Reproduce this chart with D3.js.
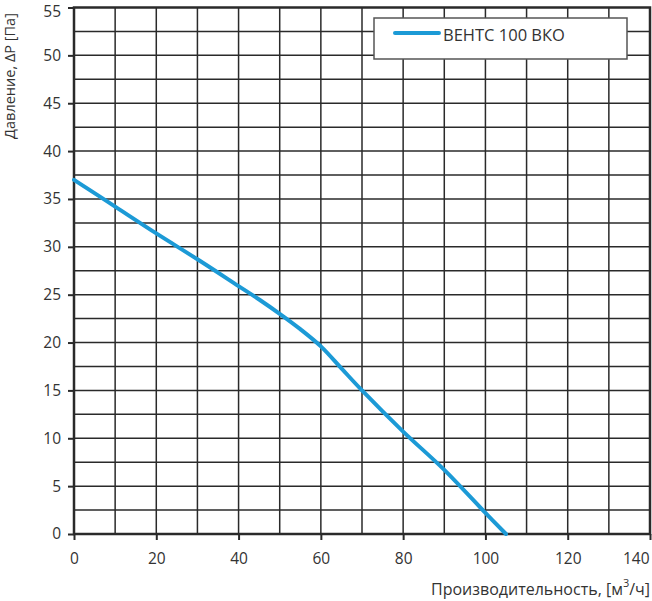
<!DOCTYPE html>
<html><head><meta charset="utf-8">
<script src="https://cdn.jsdelivr.net/npm/d3@7"></script>
<style>body{margin:0;background:#fff}svg text{font-family:"Open Sans",sans-serif;fill:#333}</style>
</head><body><svg id="c" width="652" height="601"></svg>
<script>
const flowX = [0, 10, 20, 30, 40, 45, 50, 55, 60, 65, 70, 80, 90, 100, 105];
const pressureY = [37, 34.2, 31.4, 28.7, 25.9, 24.5, 23.0, 21.4, 19.6, 17.3, 15.0, 10.7, 6.7, 2.2, 0];
const xTicks = [0, 20, 40, 60, 80, 100, 120, 140];
const yTicks = [0, 5, 10, 15, 20, 25, 30, 35, 40, 45, 50, 55];
const seriesName = "ВЕНТС 100 ВКО";

const svg = d3.select("#c");
const m = {l:74, r:2, t:7.5, b:67};
const W = 652, H = 601;
const x = d3.scaleLinear().domain([0,140]).range([m.l, W-m.r]);
const y = d3.scaleLinear().domain([0,55]).range([H-m.b, m.t]);

const grid = svg.append("g").attr("stroke","#2a2a2a").attr("stroke-width",1.5);
grid.selectAll("line.v").data(d3.range(10,140,10)).join("line")
  .attr("x1",d=>x(d)).attr("x2",d=>x(d)).attr("y1",y(0)).attr("y2",y(55));
grid.selectAll("line.h").data(d3.range(2.5,55,2.5)).join("line")
  .attr("y1",d=>y(d)).attr("y2",d=>y(d)).attr("x1",x(0)).attr("x2",x(140));
svg.append("rect").attr("x",x(0)).attr("y",y(55)).attr("width",x(140)-x(0)).attr("height",y(0)-y(55))
  .attr("fill","none").attr("stroke","#2a2a2a").attr("stroke-width",2.5);

const xa = svg.append("g").attr("transform",`translate(0,${y(0)})`)
  .call(d3.axisBottom(x).tickValues(xTicks).tickSize(6).tickPadding(13).tickFormat(d3.format("d")));
const ya = svg.append("g").attr("transform",`translate(${x(0)},0)`)
  .call(d3.axisLeft(y).tickValues(yTicks).tickSize(6).tickPadding(7).tickFormat(d3.format("d")));
[xa,ya].forEach(a=>{a.select(".domain").remove();
  a.selectAll(".tick line").attr("stroke","#2a2a2a").attr("stroke-width",2);
  a.selectAll(".tick text").attr("font-size",15.5).attr("fill","#333").style("font-family","'Open Sans',sans-serif");});
xa.selectAll(".tick text").filter(d=>d===140).attr("text-anchor","end").attr("dx",-1);
ya.selectAll(".tick text").filter(d=>d===55).attr("dy","0.6em");

const line = d3.line().x((d,i)=>x(flowX[i])).y(d=>y(d)).curve(d3.curveCatmullRom.alpha(0.5));
svg.append("path").datum(pressureY).attr("d",line).attr("fill","none")
  .attr("stroke","#1c9ad6").attr("stroke-width",4).attr("stroke-linecap","round");

// legend
const lg = svg.append("g");
lg.append("rect").attr("x",374).attr("y",18).attr("width",253).attr("height",41)
  .attr("fill","#fff").attr("stroke","#555").attr("stroke-width",1.5);
lg.append("line").attr("x1",395).attr("x2",439).attr("y1",33).attr("y2",33)
  .attr("stroke","#1c9ad6").attr("stroke-width",4).attr("stroke-linecap","round");
lg.append("text").attr("x",443).attr("y",41).attr("font-size",16.5).text(seriesName);

// axis titles
svg.append("text").attr("transform","translate(15,76) rotate(-90)").attr("text-anchor","middle")
  .attr("font-size",14.5).text("Давление, ΔP [Па]");
const xt = svg.append("text").attr("x",650).attr("y",595).attr("text-anchor","end").attr("font-size",16);
xt.append("tspan").text("Производительность, [м");
xt.append("tspan").attr("dy",-8).attr("font-size",11).text("3");
xt.append("tspan").attr("dy",8).text("/ч]");
</script></body></html>
